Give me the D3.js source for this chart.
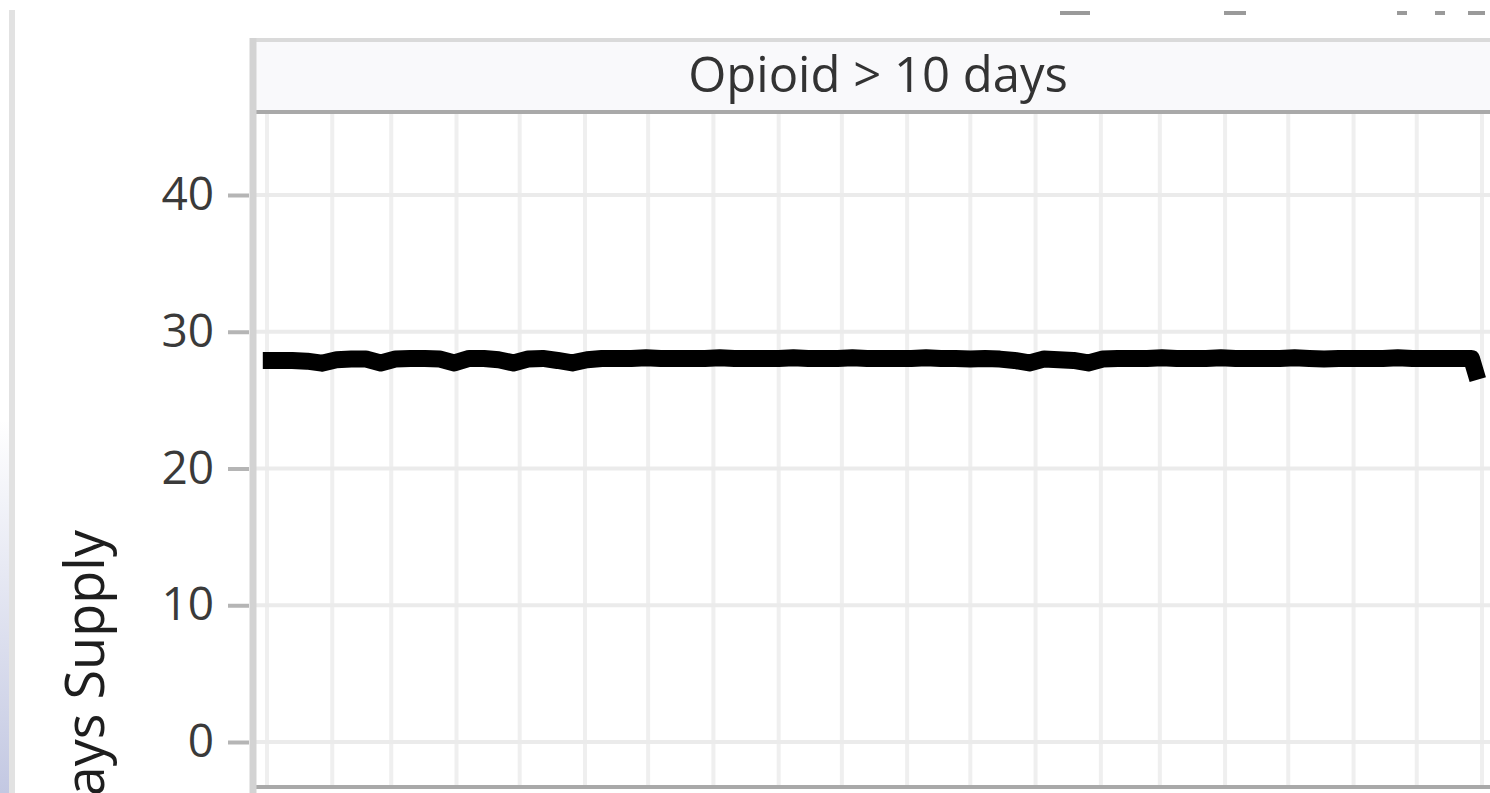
<!DOCTYPE html>
<html>
<head>
<meta charset="utf-8">
<script src="https://cdn.jsdelivr.net/npm/d3@7"></script>
<style>
  html, body { margin: 0; padding: 0; background: #ffffff; }
  svg { display: block; font-family: "Open Sans", "Noto Sans", sans-serif; }
</style>
</head>
<body>
<svg id="chart" width="1490" height="793"></svg>
<script>
// ---------------- data ----------------
const panelTitle = "Opioid > 10 days";
const yAxisTitle = "Days Supply";
const yTickValues = [0, 10, 20, 30, 40];
const seriesStart = "2017-12-30";          // first weekly observation
const weeklyValues = [
  27.9, 27.9, 27.9, 27.85, 27.7, 27.95, 28.0, 28.0, 27.72, 28.0,
  28.05, 28.05, 28.0, 27.72, 28.05, 28.05, 27.95, 27.72, 28.0, 28.05,
  27.9, 27.72, 27.95, 28.05, 28.05, 28.05, 28.1, 28.05, 28.05, 28.05,
  28.05, 28.1, 28.05, 28.05, 28.05, 28.05, 28.1, 28.05, 28.05, 28.05,
  28.1, 28.05, 28.05, 28.05, 28.05, 28.1, 28.05, 28.05, 28.0, 28.05,
  28.0, 27.9, 27.72, 28.0, 27.95, 27.9, 27.72, 28.0, 28.05, 28.05,
  28.05, 28.1, 28.05, 28.05, 28.05, 28.1, 28.05, 28.05, 28.05, 28.05,
  28.1, 28.05, 28.0, 28.05, 28.05, 28.05, 28.05, 28.1, 28.05, 28.05,
  28.05, 28.05, 28.05
];
const lastDate = "2019-07-30";              // final partial-period observation
const lastValue = 26.5;
const gridStart = "2018-01-01";
const gridEnd = "2019-09-01";

// ---------------- build series ----------------
const parse = d3.timeParse("%Y-%m-%d");
const series = weeklyValues.map((v, i) => ({ date: d3.timeDay.offset(parse(seriesStart), 7 * i), value: v }));
series.push({ date: parse(lastDate), value: lastValue });

// ---------------- layout ----------------
const W = 1490, H = 793;
const panel = { left: 253, right: 1510, top: 112, bottom: 787 };
const strip = { top: 40, bottom: 112 };

const svg = d3.select("#chart");

// background decorations (window edge remnants)
const defs = svg.append("defs");
const grad = defs.append("linearGradient").attr("id", "edgeGrad")
  .attr("x1", 0).attr("y1", 0).attr("x2", 0).attr("y2", 1);
grad.append("stop").attr("offset", "0%").attr("stop-color", "#ffffff");
grad.append("stop").attr("offset", "100%").attr("stop-color", "#c3c8e2");
svg.append("rect").attr("x", 0).attr("y", 420).attr("width", 9).attr("height", H - 420).attr("fill", "url(#edgeGrad)");
svg.append("rect").attr("x", 9).attr("y", 10).attr("width", 6).attr("height", H - 10).attr("fill", "#e2e2e2");

// remnants of text above the crop
[[1060, 30], [1224, 22], [1397, 10], [1435, 10], [1468, 17]].forEach(([x, w]) => {
  svg.append("rect").attr("x", x).attr("y", 11).attr("width", w).attr("height", 4).attr("fill", "#9a9a9a");
});

// scales
const x = d3.scaleTime()
  .domain([parse(gridStart), parse("2019-08-01")])
  .range([267, 1482]);
const y = d3.scaleLinear()
  .domain([0, 40])
  .range([742, 195]);

defs.append("clipPath").attr("id", "panelClip")
  .append("rect").attr("x", panel.left).attr("y", panel.top)
  .attr("width", panel.right - panel.left).attr("height", panel.bottom - panel.top);

// panel background
svg.append("rect").attr("x", panel.left).attr("y", panel.top)
  .attr("width", panel.right - panel.left).attr("height", panel.bottom - panel.top)
  .attr("fill", "#ffffff");

const gPanel = svg.append("g").attr("clip-path", "url(#panelClip)");

// vertical grid lines (monthly)
const months = d3.timeMonth.range(parse(gridStart), parse(gridEnd));
gPanel.append("g").selectAll("line").data(months).join("line")
  .attr("x1", d => x(d)).attr("x2", d => x(d))
  .attr("y1", panel.top).attr("y2", panel.bottom)
  .attr("stroke", "#efefef").attr("stroke-width", 4);

// horizontal grid lines
gPanel.append("g").selectAll("line").data(yTickValues).join("line")
  .attr("x1", panel.left).attr("x2", panel.right)
  .attr("y1", d => y(d)).attr("y2", d => y(d))
  .attr("stroke", "#ebebeb").attr("stroke-width", 4);

// data line
const line = d3.line().x(d => x(d.date)).y(d => y(d.value));
gPanel.append("path").datum(series)
  .attr("d", line)
  .attr("fill", "none")
  .attr("stroke", "#000000")
  .attr("stroke-width", 17)
  .attr("stroke-linejoin", "round")
  .attr("stroke-linecap", "butt");

// strip
svg.append("rect").attr("x", panel.left).attr("y", strip.top)
  .attr("width", panel.right - panel.left).attr("height", strip.bottom - strip.top)
  .attr("fill", "#f9f9fb");
svg.append("line").attr("x1", panel.left).attr("x2", panel.right)
  .attr("y1", strip.top).attr("y2", strip.top)
  .attr("stroke", "#dadada").attr("stroke-width", 4);
svg.append("text")
  .attr("x", 878).attr("y", 92)
  .attr("text-anchor", "middle")
  .attr("font-size", 49)
  .attr("fill", "#333333")
  .text(panelTitle);

// panel borders
svg.append("line").attr("x1", panel.left).attr("x2", panel.right)
  .attr("y1", panel.top).attr("y2", panel.top)
  .attr("stroke", "#a9a9a9").attr("stroke-width", 4);
svg.append("line").attr("x1", panel.left).attr("x2", panel.right)
  .attr("y1", panel.bottom).attr("y2", panel.bottom)
  .attr("stroke", "#a9a9a9").attr("stroke-width", 4);
svg.append("line").attr("x1", panel.left).attr("x2", panel.left)
  .attr("y1", strip.top - 2).attr("y2", H)
  .attr("stroke", "#d3d3d3").attr("stroke-width", 7);

// y axis
const yAxis = d3.axisLeft(y).tickValues(yTickValues).tickSize(21).tickPadding(14);
const gy = svg.append("g").attr("transform", `translate(${panel.left - 4},0)`).call(yAxis);
gy.select(".domain").remove();
gy.selectAll(".tick line").attr("stroke", "#b5b5b5").attr("stroke-width", 4);
gy.selectAll(".tick text")
  .attr("font-size", 46)
  .attr("fill", "#3a3a3a")
  .attr("font-family", "\"Open Sans\", \"Noto Sans\", sans-serif");

// y axis title (cut at the bottom edge, as in the reference crop)
svg.append("text")
  .attr("transform", "translate(104,530) rotate(-90)")
  .attr("text-anchor", "end")
  .attr("font-size", 54)
  .attr("fill", "#1e1e1e")
  .text(yAxisTitle);
</script>
</body>
</html>
